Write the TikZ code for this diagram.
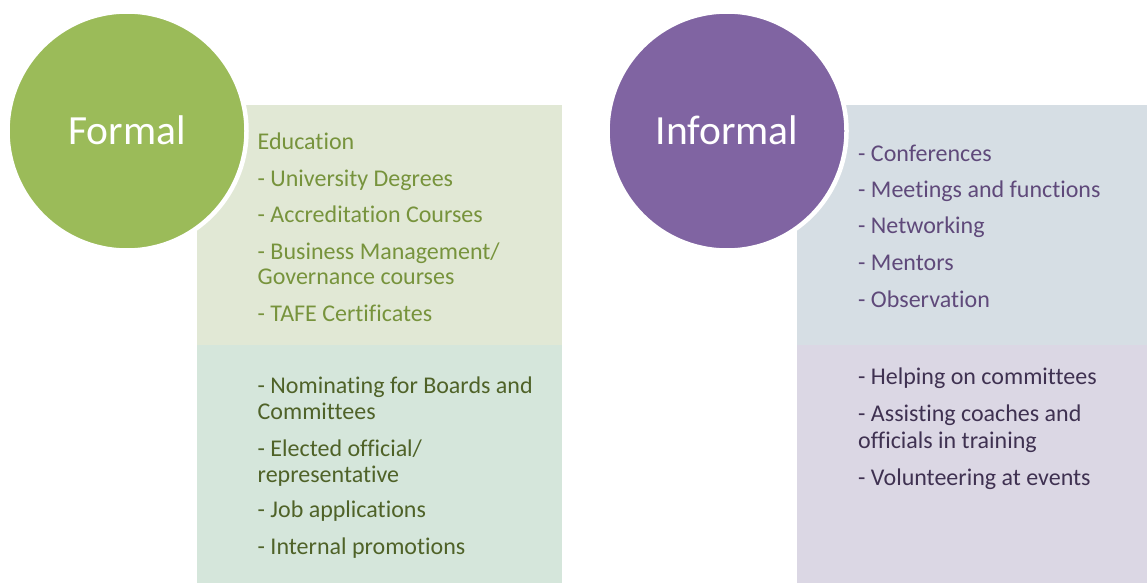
\documentclass[tikz,border=0pt]{standalone}
\usepackage{fontspec}
\setmainfont[Ligatures=NoCommon, RawFeature={-liga;-clig;-dlig}]{Carlito}
\definecolor{fgreen}{HTML}{9BBB59}
\definecolor{fpurple}{HTML}{8064A2}
\definecolor{boxgA}{HTML}{E1E8D5}
\definecolor{boxgB}{HTML}{D5E6DB}
\definecolor{boxpA}{HTML}{D6DEE4}
\definecolor{boxpB}{HTML}{DBD7E4}
\definecolor{txtgA}{HTML}{77933C}
\definecolor{txtgB}{HTML}{4F6228}
\definecolor{txtpA}{HTML}{5F497A}
\definecolor{txtpB}{HTML}{3F3151}
\tikzset{
  item/.style={anchor=base west, inner sep=0pt, font=\fontsize{24}{26}\selectfont},
  bigcirc/.style={circle, draw=white, line width=4.5pt, minimum size=239pt, inner sep=0pt, outer sep=0pt},
  circtext/.style={anchor=base, inner sep=0pt, text=white, font=\fontsize{41.5}{44}\selectfont},
}
\begin{document}
\begin{tikzpicture}[x=1pt,y=-1pt]
\useasboundingbox (0,0) rectangle (1147,583);
\fill[white] (0,0) rectangle (1147,583);
% boxes
\fill[boxgA] (197,105) rectangle (562,345);
\fill[boxgB] (197,345) rectangle (562,583);
\fill[boxpA] (797,105) rectangle (1147,345);
\fill[boxpB] (797,345) rectangle (1147,583);
% circles
\node[bigcirc, fill=fgreen] (formal) at (127,131) {};
\node[circtext] (formaltxt) at (127,144) {Formal};
\node[bigcirc, fill=fpurple] (informal) at (727,131) {};
\node[circtext] (informaltxt) at (727,144) {Informal};
% left upper text
\begin{scope}[every node/.append style={item, text=txtgA}]
\node (l1) at (257.5,149) {Education};
\node (l2) at (257.5,186) {- University Degrees};
\node (l3) at (257.5,222) {- Accreditation Courses};
\node (l4) at (257.5,259) {- Business Management/};
\node (l5) at (257.5,284) {Governance courses};
\node (l6) at (257.5,321) {- TAFE Certificates};
\end{scope}
\begin{scope}[every node/.append style={item, text=txtgB}]
\node (l7) at (257.5,393) {- Nominating for Boards and};
\node (l8) at (257.5,419) {Committees};
\node (l9) at (257.5,456) {- Elected official/};
\node (l10) at (257.5,482) {representative};
\node (l11) at (257.5,517) {- Job applications};
\node (l12) at (257.5,554) {- Internal promotions};
\end{scope}
\begin{scope}[every node/.append style={item, text=txtpA}]
\node (r1) at (858,161) {- Conferences};
\node (r2) at (858,197) {- Meetings and functions};
\node (r3) at (858,233) {- Networking};
\node (r4) at (858,270) {- Mentors};
\node (r5) at (858,307) {- Observation};
\end{scope}
\begin{scope}[every node/.append style={item, text=txtpB}]
\node (r6) at (858,384) {- Helping on committees};
\node (r7) at (858,421) {- Assisting coaches and};
\node (r8) at (858,448) {officials in training};
\node (r9) at (858,485) {- Volunteering at events};
\end{scope}
\end{tikzpicture}
\end{document}
